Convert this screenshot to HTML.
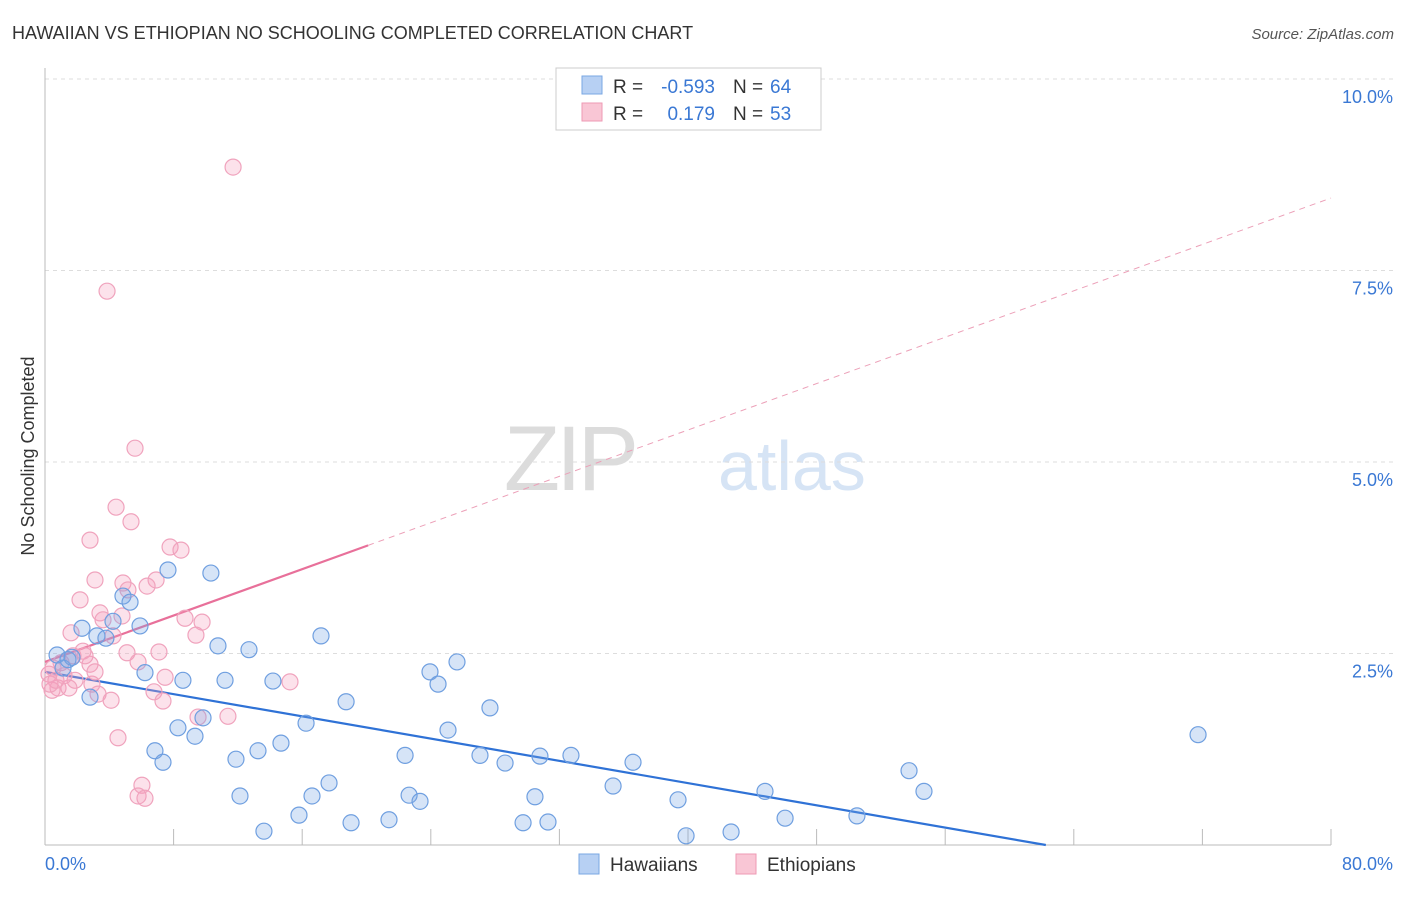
<!DOCTYPE html>
<html><head><meta charset="utf-8"><style>
body{margin:0;background:#fff;font-family:"Liberation Sans",sans-serif;}
svg text{font-family:"Liberation Sans",sans-serif;}
</style></head><body>
<svg id="chart" width="1406" height="892">
<text x="12" y="39" font-size="18" fill="#333">HAWAIIAN VS ETHIOPIAN NO SCHOOLING COMPLETED CORRELATION CHART</text>
<text x="1394" y="39" font-size="15" fill="#555" text-anchor="end" font-style="italic">Source: ZipAtlas.com</text>
<text x="34" y="456" font-size="18" fill="#333" text-anchor="middle" transform="rotate(-90 34 456)">No Schooling Completed</text>
<g>
<text x="635" y="490" font-size="92" fill="#dcdcdc" text-anchor="end" font-family="Liberation Serif" letter-spacing="-4">ZIP</text>
<text x="718" y="490" font-size="70" fill="#d6e4f5">atlas</text>
</g>
<g id="grid"></g><g id="axes"></g><g id="lines"></g><g id="pts"></g>
<g>
<rect x="556" y="68" width="265" height="62" fill="#fff" stroke="#ccc"/>
<rect x="582" y="76" width="20" height="18" fill="#b7d0f3" stroke="#7aa7e3"/>
<rect x="582" y="103" width="20" height="18" fill="#f9c6d5" stroke="#ee9ab4"/>
<text x="613" y="93" font-size="19" fill="#333">R =</text>
<text x="715" y="93" font-size="19" fill="#3a78d4" text-anchor="end">-0.593</text>
<text x="733" y="93" font-size="19" fill="#333">N =</text>
<text x="770" y="93" font-size="19" fill="#3a78d4">64</text>
<text x="613" y="120" font-size="19" fill="#333">R =</text>
<text x="715" y="120" font-size="19" fill="#3a78d4" text-anchor="end">0.179</text>
<text x="733" y="120" font-size="19" fill="#333">N =</text>
<text x="770" y="120" font-size="19" fill="#3a78d4">53</text>
</g>
<g>
<rect x="579" y="854" width="20" height="20" fill="#b7d0f3" stroke="#7aa7e3"/>
<text x="610" y="871" font-size="19" fill="#333">Hawaiians</text>
<rect x="736" y="854" width="20" height="20" fill="#f9c6d5" stroke="#ee9ab4"/>
<text x="767" y="871" font-size="19" fill="#333">Ethiopians</text>
</g>
</svg>
<script>
const xTicksLabels=["0.0%","80.0%"];
const yTickValues=[2.5,5,7.5,10];
const yTickLabels=["2.5%","5.0%","7.5%","10.0%"];
const hawX=[0.75,1.12,1.43,1.68,2.30,2.80,3.23,3.79,4.23,4.85,5.29,5.91,6.22,6.84,7.34,7.65,8.27,8.58,9.33,9.83,10.32,10.76,11.20,11.88,12.13,12.69,13.25,13.62,14.18,14.68,15.80,16.24,16.61,17.17,17.67,18.73,19.04,21.40,22.40,22.65,23.33,23.95,24.45,25.07,25.63,27.06,27.68,28.62,29.74,30.48,30.79,31.29,32.72,35.34,36.58,39.38,39.88,42.68,44.79,46.04,50.51,53.75,54.68,71.73];
const hawY=[2.48,2.31,2.42,2.45,2.83,1.93,2.73,2.70,2.92,3.25,3.17,2.86,2.25,1.23,1.08,3.59,1.53,2.15,1.42,1.66,3.55,2.60,2.15,1.12,0.64,2.55,1.23,0.18,2.14,1.33,0.39,1.59,0.64,2.73,0.81,1.87,0.29,0.33,1.17,0.65,0.57,2.26,2.10,1.50,2.39,1.17,1.79,1.07,0.29,0.63,1.16,0.30,1.17,0.77,1.08,0.59,0.12,0.17,0.70,0.35,0.38,0.97,0.70,1.44];
const ethX=[11.70,3.86,5.60,4.42,2.80,5.35,7.78,8.46,3.11,4.85,6.91,6.35,2.18,3.42,5.16,3.61,4.79,9.77,8.71,1.62,4.23,9.39,2.36,5.10,7.09,1.74,2.80,5.79,0.50,1.00,0.25,7.47,15.24,1.87,2.92,0.81,0.44,1.49,3.30,6.78,4.11,7.34,9.52,11.38,4.54,6.03,5.79,6.22,0.68,1.18,0.31,2.49,3.11];
const ethY=[8.85,7.23,5.18,4.41,3.98,4.22,3.89,3.85,3.46,3.42,3.46,3.38,3.20,3.03,3.33,2.94,2.99,2.91,2.96,2.77,2.73,2.74,2.53,2.51,2.52,2.47,2.36,2.39,2.31,2.38,2.23,2.19,2.13,2.15,2.10,2.05,2.02,2.05,1.97,2.00,1.89,1.88,1.67,1.68,1.40,0.78,0.64,0.61,2.15,2.21,2.10,2.47,2.26];
const hawLine=[2.26,-0.0363];
const ethLine=[2.39,0.0757];
const ethSolidEnd=20.1;
const X0=45,X1=1331,Y0=845,PPY=76.6;
const sx=v=>X0+(v/80)*(X1-X0), sy=v=>Y0-v*PPY;
const NS="http://www.w3.org/2000/svg";
function mk(p,t,a){const e=document.createElementNS(NS,t);for(const k in a)e.setAttribute(k,a[k]);p.appendChild(e);return e;}
const grid=document.getElementById('grid'),axes=document.getElementById('axes'),lines=document.getElementById('lines'),pts=document.getElementById('pts');
yTickValues.forEach((v,i)=>{
 const l=mk(grid,'line',{x1:X0,x2:1394,y1:sy(v),y2:sy(v),stroke:'#ddd','stroke-dasharray':'4,4'});
 
 
 const t=mk(axes,'text',{x:1393,y:sy(v)+24,'font-size':18,fill:'#3a78d4','text-anchor':'end'});t.textContent=yTickLabels[i];
 
 
});
mk(axes,'line',{x1:X0,x2:X0,y1:68,y2:Y0,stroke:'#bbb'});
mk(axes,'line',{x1:X0,x2:X1,y1:Y0,y2:Y0,stroke:'#bbb'});
for(let i=0;i<=10;i++){const t=mk(axes,'line',{x1:sx(i*8),x2:sx(i*8),y1:Y0,y2:Y0-16,stroke:'#bbb'});
 
 }
let t0=mk(axes,'text',{x:45,y:870,'font-size':18,fill:'#3a78d4'});t0.textContent=xTicksLabels[0];


let t1=mk(axes,'text',{x:1393,y:870,'font-size':18,fill:'#3a78d4','text-anchor':'end'});t1.textContent=xTicksLabels[1];


function pt(x,y,fill,stroke,name){const c=mk(pts,'circle',{cx:sx(x),cy:sy(y),r:8,fill:fill,stroke:stroke,'stroke-width':1.2});
 
 }
ethX.forEach((x,i)=>pt(x,ethY[i],'rgba(244,160,190,0.3)','#f0a3bd','ethiopian-point'));
hawX.forEach((x,i)=>pt(x,hawY[i],'rgba(120,165,230,0.3)','#6f9fe0','hawaiian-point'));
const hx=-hawLine[0]/hawLine[1];
let hl=mk(lines,'line',{x1:sx(0),y1:sy(hawLine[0]),x2:sx(hx),y2:sy(0),stroke:'#2f72d6','stroke-width':2.2});


let el=mk(lines,'line',{x1:sx(0),y1:sy(ethLine[0]),x2:sx(ethSolidEnd),y2:sy(ethLine[0]+ethLine[1]*ethSolidEnd),stroke:'#e8709a','stroke-width':2.2});


let ed=mk(lines,'line',{x1:sx(ethSolidEnd),y1:sy(ethLine[0]+ethLine[1]*ethSolidEnd),x2:sx(80),y2:sy(ethLine[0]+ethLine[1]*80),stroke:'#eca0b8','stroke-width':1,'stroke-dasharray':'6,5'});


</script>
</body></html>
